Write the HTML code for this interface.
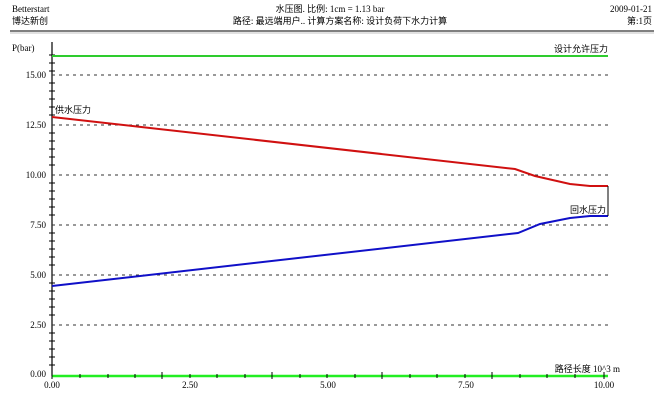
<!DOCTYPE html>
<html><head><meta charset="utf-8"><style>
body{margin:0;background:#fff;width:664px;height:408px;overflow:hidden}
svg text{font-family:"Liberation Serif","Noto Sans CJK SC",serif;font-size:9px;fill:#000}
</style></head><body>
<svg width="664" height="408" xmlns="http://www.w3.org/2000/svg">
<text x="12" y="12">Betterstart</text>
<text x="12" y="24">博达新创</text>
<text x="330" y="12" text-anchor="middle">水压图. 比例: 1cm = 1.13 bar</text>
<text x="340" y="24" text-anchor="middle">路径: 最远端用户.. 计算方案名称: 设计负荷下水力计算</text>
<text x="652" y="12" text-anchor="end">2009-01-21</text>
<text x="652" y="24" text-anchor="end">第:1页</text>
<line x1="10" y1="31" x2="654" y2="31" stroke="#000" stroke-width="1"/>
<line x1="10" y1="33" x2="654" y2="33" stroke="#888" stroke-width="0.6"/>
<text x="12" y="51">P(bar)</text>
<line x1="52" y1="42" x2="52" y2="376" stroke="#000" stroke-width="1.2"/>
<g stroke="#000" stroke-width="1">
<path d="M49 55h6M49 63h6M49 71h6M49 83h6M49 91h6M49 99h6M49 107h6M49 115h6M49 133h6M49 141h6M49 149h6M49 157h6M49 165h6M49 183h6M49 191h6M49 199h6M49 207h6M49 215h6M49 233h6M49 241h6M49 249h6M49 257h6M49 265h6M49 283h6M49 291h6M49 299h6M49 307h6M49 315h6M49 333h6M49 341h6M49 349h6M49 357h6M49 365h6"/>
</g>
<g stroke="#333" stroke-width="1" stroke-dasharray="3,4">
<line x1="52" y1="75" x2="608" y2="75"/><line x1="52" y1="125" x2="608" y2="125"/>
<line x1="52" y1="175" x2="608" y2="175"/><line x1="52" y1="225" x2="608" y2="225"/>
<line x1="52" y1="275" x2="608" y2="275"/><line x1="52" y1="325" x2="608" y2="325"/>
</g>
<g text-anchor="end">
<text x="46" y="78">15.00</text><text x="46" y="128">12.50</text><text x="46" y="178">10.00</text>
<text x="46" y="228">7.50</text><text x="46" y="278">5.00</text><text x="46" y="328">2.50</text><text x="46" y="377">0.00</text>
</g>
<line x1="52" y1="56" x2="608" y2="56" stroke="#2ecc2e" stroke-width="2"/>
<text x="608" y="52" text-anchor="end">设计允许压力</text>
<line x1="52" y1="376" x2="608" y2="376" stroke="#22ee22" stroke-width="2.5"/>
<g stroke="#000" stroke-width="1">
<path d="M52 372v7M162 372v7M272 372v7M382 372v7M492 372v7M604 372v7M80 374v4M108 374v4M135 374v4M190 374v4M217 374v4M245 374v4M300 374v4M327 374v4M355 374v4M410 374v4M437 374v4M465 374v4M520 374v4M547 374v4M575 374v4"/>
</g>
<text x="52" y="388" text-anchor="middle">0.00</text><text x="190" y="388" text-anchor="middle">2.50</text>
<text x="328" y="388" text-anchor="middle">5.00</text><text x="466" y="388" text-anchor="middle">7.50</text>
<text x="604" y="388" text-anchor="middle">10.00</text>
<text x="620" y="372" text-anchor="end">路径长度 10^3 m</text>
<polyline fill="none" stroke="#d01010" stroke-width="2" points="52,117 515,169 535,176 570,184 590,186 608,186"/>
<polyline fill="none" stroke="#1010c8" stroke-width="2" points="52,286 518,233 540,224 570,218 590,216 608,216"/>
<line x1="608" y1="186" x2="608" y2="216" stroke="#000" stroke-width="1"/>
<text x="55" y="113">供水压力</text>
<text x="606" y="213" text-anchor="end">回水压力</text>
</svg>
</body></html>
